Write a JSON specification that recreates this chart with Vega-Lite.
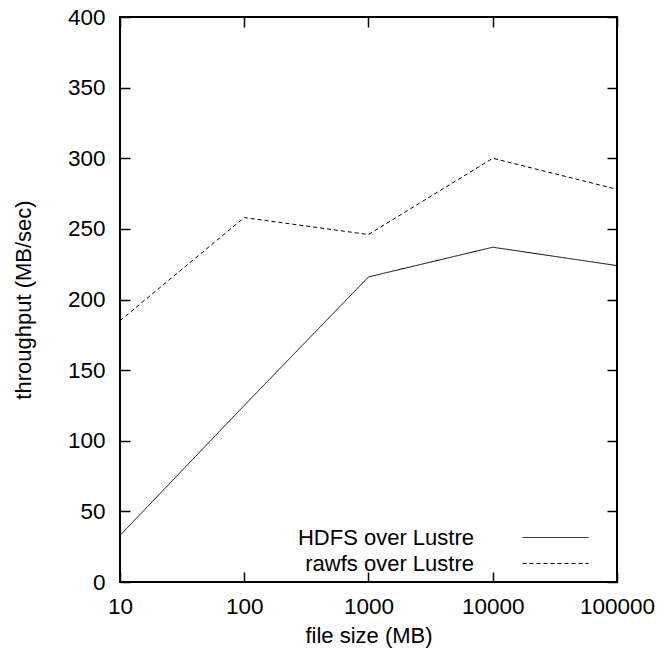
{
  "$schema": "https://vega.github.io/schema/vega-lite/v6.json",
  "width": 497,
  "height": 565,
  "autosize": "none",
  "padding": {"left": 120, "top": 17, "right": 51, "bottom": 72},
  "background": "white",
  "config": {
    "font": "Liberation Sans",
    "view": {"stroke": "black", "strokeWidth": 2},
    "axis": {
      "grid": false,
      "domain": false,
      "tickColor": "black",
      "tickWidth": 1.5,
      "tickSize": -10,
      "labelFontSize": 22.5,
      "labelColor": "black",
      "labelFlush": false,
      "labelOverlap": false,
      "titleFontSize": 22,
      "titleFontWeight": "normal",
      "titleColor": "black"
    }
  },
  "data": {
    "values": [
      {"size": 10, "throughput": 33, "series": "HDFS over Lustre"},
      {"size": 100, "throughput": 125, "series": "HDFS over Lustre"},
      {"size": 1000, "throughput": 216, "series": "HDFS over Lustre"},
      {"size": 10000, "throughput": 237, "series": "HDFS over Lustre"},
      {"size": 100000, "throughput": 224, "series": "HDFS over Lustre"},
      {"size": 10, "throughput": 185, "series": "rawfs over Lustre"},
      {"size": 100, "throughput": 258, "series": "rawfs over Lustre"},
      {"size": 1000, "throughput": 246, "series": "rawfs over Lustre"},
      {"size": 10000, "throughput": 300, "series": "rawfs over Lustre"},
      {"size": 100000, "throughput": 278, "series": "rawfs over Lustre"}
    ]
  },
  "layer": [
    {
      "mark": {"type": "line", "color": "black", "strokeWidth": 1},
      "encoding": {
        "x": {
          "field": "size", "type": "quantitative",
          "scale": {"type": "log", "domain": [10, 100000]},
          "axis": {"orient": "bottom", "title": "file size (MB)", "values": [10, 100, 1000, 10000, 100000], "format": "d", "labelPadding": 23, "titlePadding": 8}
        },
        "y": {
          "field": "throughput", "type": "quantitative",
          "scale": {"domain": [0, 400]},
          "axis": {"orient": "left", "title": "throughput (MB/sec)", "values": [0, 50, 100, 150, 200, 250, 300, 350, 400], "labelPadding": 25, "titlePadding": 32}
        },
        "strokeDash": {
          "field": "series", "type": "nominal",
          "scale": {"domain": ["HDFS over Lustre", "rawfs over Lustre"], "range": [[1, 0], [4, 3]]},
          "legend": {
            "title": null,
            "orient": "none",
            "legendX": 424,
            "legendY": 509,
            "padding": 0,
            "rowPadding": 3,
            "symbolType": "M-3,0H3",
            "symbolSize": 484,
            "symbolStrokeWidth": 1,
            "symbolStrokeColor": "black",
            "labelAlign": "right",
            "labelOffset": -93,
            "labelFontSize": 22,
            "labelColor": "black",
            "labelLimit": 0
          }
        }
      }
    },
    {
      "mark": {"type": "line", "opacity": 0},
      "encoding": {
        "x": {
          "field": "size", "type": "quantitative",
          "axis": {"orient": "top", "title": null, "labels": false, "values": [10, 100, 1000, 10000, 100000]}
        },
        "y": {
          "field": "throughput", "type": "quantitative",
          "axis": {"orient": "right", "title": null, "labels": false, "values": [0, 50, 100, 150, 200, 250, 300, 350, 400]}
        }
      }
    }
  ]
}
